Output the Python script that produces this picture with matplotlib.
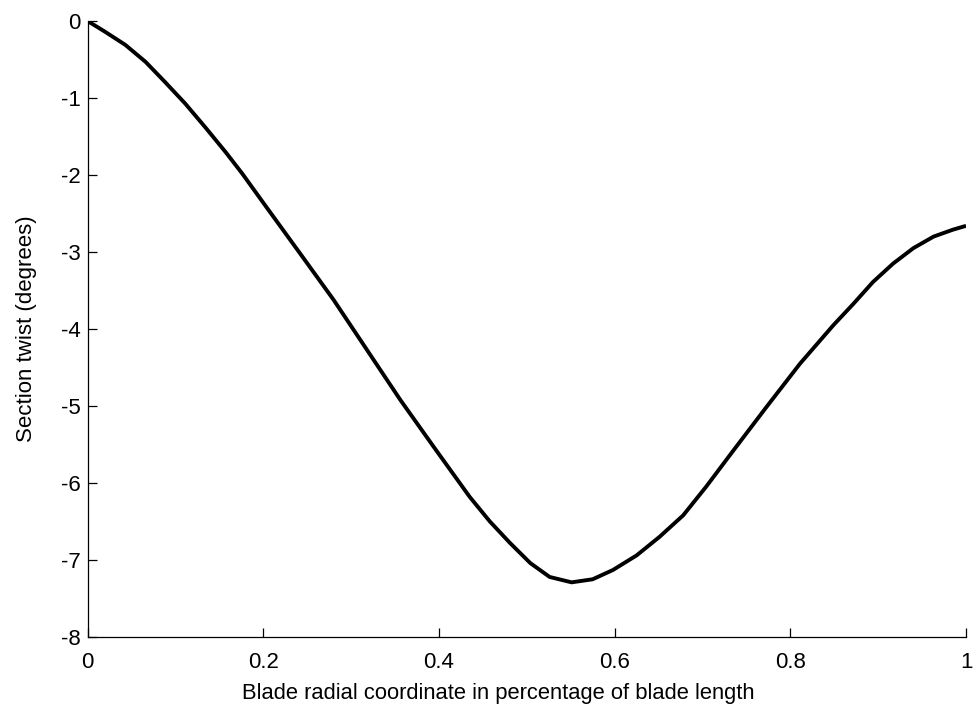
import matplotlib
matplotlib.use("Agg")
import matplotlib.pyplot as plt

# blade radial position (fraction of length) and section twist (degrees)
radial = [0.0, 0.02, 0.043, 0.066, 0.088, 0.111, 0.134, 0.157, 0.176, 0.2,
          0.242, 0.28, 0.318, 0.356, 0.394, 0.435, 0.458, 0.481, 0.504, 0.526,
          0.551, 0.575, 0.598, 0.625, 0.651, 0.678, 0.704, 0.735, 0.773, 0.811,
          0.849, 0.872, 0.894, 0.917, 0.94, 0.963, 0.985, 1.0]
twist = [0.0, -0.14, -0.31, -0.53, -0.79, -1.07, -1.38, -1.70, -1.98, -2.36,
         -3.02, -3.62, -4.27, -4.92, -5.53, -6.18, -6.50, -6.78, -7.04, -7.22,
         -7.29, -7.25, -7.13, -6.94, -6.70, -6.42, -6.05, -5.58, -5.01, -4.45,
         -3.95, -3.67, -3.39, -3.15, -2.95, -2.80, -2.71, -2.66]

xticks = [0, 0.2, 0.4, 0.6, 0.8, 1]
xticklabels = ["0", "0.2", "0.4", "0.6", "0.8", "1"]
yticks = [0, -1, -2, -3, -4, -5, -6, -7, -8]

plt.rcParams['font.family'] = ['Liberation Sans', 'DejaVu Sans']

fig = plt.figure(figsize=(9.76, 7.10), dpi=100)
ax = fig.add_axes([0.0897, 0.1028, 0.9001, 0.8676])

ax.plot(radial, twist, color="black", lw=2.8, solid_joinstyle="round",
        solid_capstyle="butt")

ax.set_xlim(0, 1)
ax.set_ylim(-8, 0)
ax.set_xticks(xticks)
ax.set_xticklabels(xticklabels)
ax.set_yticks(yticks)
ax.set_yticklabels([str(v) for v in yticks])

for s in ["top", "right"]:
    ax.spines[s].set_visible(False)
for s in ["left", "bottom"]:
    ax.spines[s].set_linewidth(0.9)

ax.tick_params(direction="in", length=6.5, width=0.9, labelsize=16)
ax.tick_params(axis="x", pad=11)
ax.tick_params(axis="y", pad=5)

ax.set_xlabel("Blade radial coordinate in percentage of blade length", fontsize=15.8)
ax.xaxis.set_label_coords(0.468, -0.075)
ax.set_ylabel("Section twist (degrees)", fontsize=16, labelpad=17)

fig.savefig("out.png", dpi=100)
